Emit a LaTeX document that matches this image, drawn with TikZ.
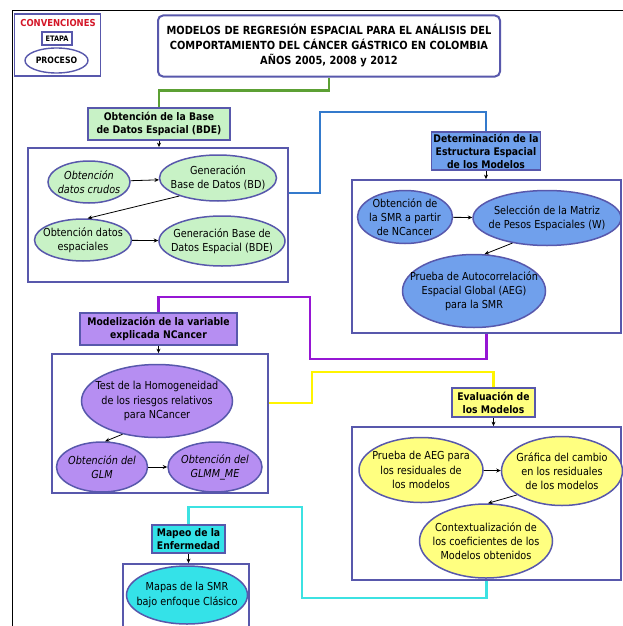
\documentclass[tikz,border=0pt]{standalone}
\usepackage{fontspec}
\setmainfont{DejaVu Sans}[FakeStretch=0.88]
\usetikzlibrary{shapes.geometric,arrows.meta}
\definecolor{edge}{RGB}{88,88,172}
\definecolor{gfill}{RGB}{200,242,198}
\definecolor{bfill}{RGB}{112,160,236}
\definecolor{pfill}{RGB}{182,142,242}
\definecolor{yfill}{RGB}{255,255,128}
\definecolor{cfill}{RGB}{52,226,232}
\definecolor{glink}{RGB}{92,160,52}
\definecolor{blink}{RGB}{52,122,204}
\definecolor{plink}{RGB}{150,22,212}
\definecolor{ylink}{RGB}{255,244,0}
\definecolor{clink}{RGB}{60,226,226}
\definecolor{convred}{RGB}{212,22,40}
\begin{document}
\begin{tikzpicture}[x=1pt,y=-1pt,
  proc/.style={ellipse, draw=edge, line width=1.5pt, inner sep=-90pt, align=center, font=\fontsize{11}{14.2}\selectfont},
  stage/.style={rectangle, draw=edge, line width=1.8pt, inner sep=1pt, align=center, font=\bfseries\fontsize{10.5}{13}\selectfont},
  group/.style={rectangle, draw=edge, line width=1.8pt, fill=white, inner sep=0pt},
  link/.style={line width=2.4pt},
  arr/.style={-{Stealth[length=4.5pt,width=4pt]}, line width=0.8pt, black},
  ]
\clip (0,0) rectangle (623,626);
\fill[white] (0,0) rectangle (623,626);
% outer frame
\draw[line width=1pt, black] (12,640) -- (12,11) -- (640,11);

% legend
\node[group, line width=1.5pt, minimum width=86pt, minimum height=62pt] (leg) at (57.5,45) {};
\node[font=\bfseries\fontsize{9.6}{10}\selectfont, text=convred, inner sep=0pt] (conv) at (58,23) {CONVENCIONES};
\node[stage, fill=white, line width=1.3pt, font=\bfseries\fontsize{7.5}{8}\selectfont, minimum width=30pt, minimum height=13pt] (etapa) at (57,38.5) {ETAPA};
\node[proc, fill=white, line width=1.4pt, font=\bfseries\fontsize{8.8}{9}\selectfont, minimum width=63pt, minimum height=25pt] (proceso) at (56.5,60.5) {PROCESO};

% title
\node[rectangle, rounded corners=5pt, draw=edge, line width=2pt, fill=white, align=center, minimum width=342pt, minimum height=61pt, font=\bfseries\fontsize{11.2}{15}\selectfont] (title) at (329,46)
 {MODELOS DE REGRESIÓN ESPACIAL PARA EL ANÁLISIS DEL\\COMPORTAMIENTO DEL CÁNCER GÁSTRICO EN COLOMBIA\\AÑOS 2005, 2008 y 2012};

% ---------- stage 1 (green)
\node[stage, fill=gfill, minimum width=142pt, minimum height=32pt] (lab1) at (159,124) {Obtención de la Base\\de Datos Espacial (BDE)};
\node[group, minimum width=260pt, minimum height=134pt] (cont1) at (158,215) {};
\node[proc, fill=gfill, minimum width=82pt, minimum height=42pt] (e1) at (89,182) {\itshape Obtención\\\itshape datos crudos};
\node[proc, fill=gfill, minimum width=117pt, minimum height=46pt] (e2) at (218,178) {Generación\\Base de Datos (BD)};
\node[proc, fill=gfill, minimum width=97pt, minimum height=42pt] (e3) at (83,240) {Obtención datos\\espaciales};
\node[proc, fill=gfill, minimum width=126pt, minimum height=50pt] (e4) at (222,241) {Generación Base de\\Datos Espacial (BDE)};
\draw[arr] (e1) -- (e2);
\draw[arr] (e2.205) -- (e3.78);
\draw[arr] (e3) -- (e4);

% ---------- stage 2 (blue)
\node[stage, fill=bfill, minimum width=109pt, minimum height=38pt] (lab2) at (486,151) {Determinación de la\\Estructura Espacial\\de los Modelos};
\node[group, minimum width=269pt, minimum height=153pt] (cont2) at (486.5,256.5) {};
\node[proc, fill=bfill, minimum width=95pt, minimum height=53pt] (a1) at (405,217) {Obtención de\\la SMR a partir\\de NCancer};
\node[proc, fill=bfill, minimum width=148pt, minimum height=55pt] (a2) at (547,218) {Selección de la Matriz\\de Pesos Espaciales (W)};
\node[proc, fill=bfill, minimum width=143pt, minimum height=73pt] (a3) at (474,291) {Prueba de Autocorrelación\\Espacial Global (AEG)\\para la SMR};
\draw[arr] (a1) -- (a2);
\draw[arr] (a2.216) -- (a3.74);

% ---------- stage 3 (purple)
\node[stage, fill=pfill, minimum width=157pt, minimum height=32pt] (lab3) at (158.5,329) {Modelización de la variable\\explicada NCancer};
\node[group, minimum width=216pt, minimum height=139pt] (cont3) at (160,423.5) {};
\node[proc, fill=pfill, minimum width=151pt, minimum height=73pt] (t1) at (157,401) {Test de la Homogeneidad\\de los riesgos relativos\\para NCancer};
\node[proc, fill=pfill, minimum width=91pt, minimum height=50pt] (t2) at (102,467) {\itshape Obtención del\\\itshape GLM};
\node[proc, fill=pfill, minimum width=94pt, minimum height=50pt] (t3) at (215,467) {\itshape Obtención del\\\itshape GLMM\_ME};
\draw[arr] (t1.224) -- (t2.83);
\draw[arr] (t2) -- (t3);

% ---------- stage 4 (yellow)
\node[stage, fill=yfill, minimum width=83pt, minimum height=29pt] (lab4) at (493.5,402.5) {Evaluación de\\los Modelos};
\node[group, minimum width=269pt, minimum height=153pt] (cont4) at (486.5,503.5) {};
\node[proc, fill=yfill, minimum width=124pt, minimum height=65pt] (y1) at (421,470) {Prueba de AEG para\\los residuales de\\los modelos};
\node[proc, fill=yfill, minimum width=121pt, minimum height=69pt] (y2) at (562,471) {Gráfica del cambio\\en los residuales\\de los modelos};
\node[proc, fill=yfill, minimum width=133pt, minimum height=74pt] (y3) at (486,541) {Contextualización de\\los coeficientes de los\\Modelos obtenidos};
\draw[arr] (y1) -- (y2);
\draw[arr] (y2.208) -- (y3.87);

% ---------- stage 5 (cyan)
\node[stage, fill=cfill, minimum width=73pt, minimum height=28pt] (lab5) at (188.5,539) {Mapeo de la\\Enfermedad};
\node[group, minimum width=126pt, minimum height=80pt] (cont5) at (186,604) {};
\node[proc, fill=cfill, minimum width=121pt, minimum height=58pt] (m1) at (187,595) {Mapas de la SMR\\bajo enfoque Clásico};

% ---------- stage arrows
\draw[arr] (lab1.south) -- (lab1.south |- cont1.north);
\draw[arr] (lab2.south) -- (lab2.south |- cont2.north);
\draw[arr] (lab3.south) -- (lab3.south |- cont3.north);
\draw[arr] (lab4.south) -- (lab4.south |- cont4.north);
\draw[arr] (lab5.south) -- (lab5.south |- cont5.north);

% ---------- links between stages
\draw[link, glink] (title.south) -- ++(0,13) -| (lab1.north);
\draw[link, blink] ([yshift=22pt]cont1.east) -| (320,112) -| (lab2.north);
\draw[link, plink] (cont2.south) -- ++(0,25) -| (310,297) -| (lab3.north);
\draw[link, ylink] ([yshift=20.5pt]cont3.east) -| (312,372) -| (lab4.north);
\draw[link, clink] (cont4.south) -- ++(0,17) -| (302,507) -| (lab5.north);
\end{tikzpicture}
\end{document}
